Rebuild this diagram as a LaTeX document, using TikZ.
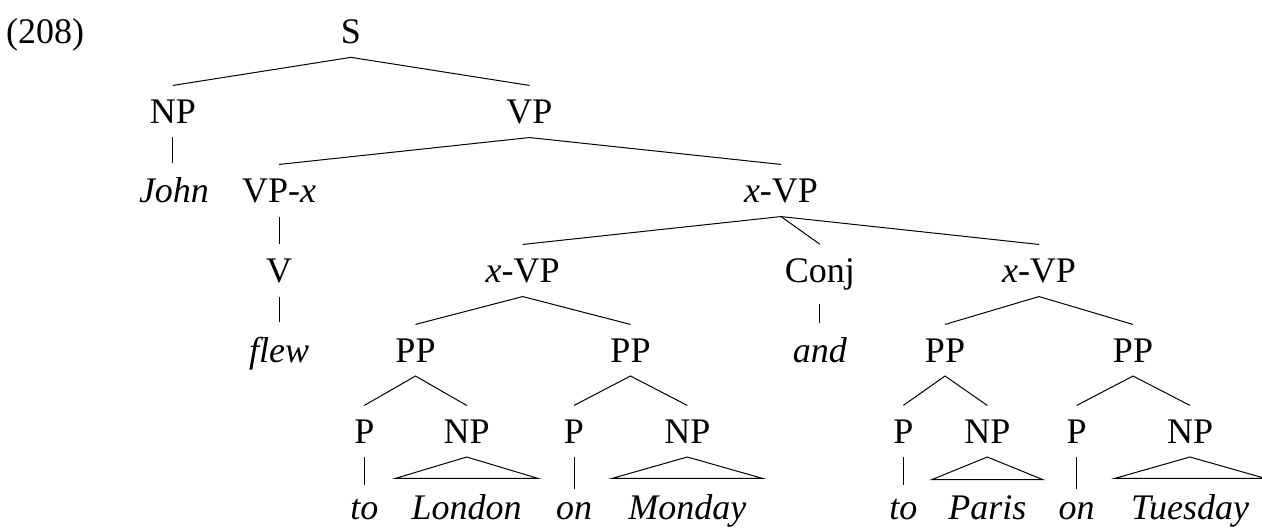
\documentclass[tikz,border=0pt]{standalone}
\usepackage{fontspec}
\setmainfont{Liberation Serif}
\begin{document}
\begin{tikzpicture}[x=0.5pt,y=-0.5pt,
  every node/.style={font=\fontsize{18}{21}\selectfont},
  cat/.style={anchor=base,inner xsep=0pt,inner ysep=6.8pt},
  leaf/.style={anchor=base,inner xsep=0pt,inner ysep=7pt,font=\fontsize{18}{21}\selectfont\itshape},
  bleaf/.style={leaf,inner ysep=6.5pt},
  tleaf/.style={anchor=base,inner xsep=8pt,inner ysep=7.6pt,font=\fontsize{18}{21}\selectfont\itshape},
  edge/.style={draw,line width=0.5pt}]
\useasboundingbox (0,0) rectangle (1262,527);
% label
\node[anchor=base,inner sep=0pt] (num) at (45,43) {(208)};
% level 0
\node[cat] (S) at (351,43) {S};
% level 1
\node[cat] (NP) at (172.8,123) {NP};
\node[cat] (VP) at (529.5,123) {VP};
% level 2
\node[leaf] (John) at (174,202) {John};
\node[cat] (VPx) at (279,202) {VP-\textit{x}};
\node[cat] (xVP) at (781,202) {\textit{x}-VP};
% level 3
\node[cat] (V) at (279,282) {V};
\node[cat] (xVPa) at (522.7,282) {\textit{x}-VP};
\node[cat] (Conj) at (819.8,282) {Conj};
\node[cat] (xVPb) at (1039,282) {\textit{x}-VP};
% level 4
\node[leaf] (flew) at (279,362) {flew};
\node[cat] (PPa) at (415.5,362) {PP};
\node[cat] (PPb) at (630.5,362) {PP};
\node[leaf] (and) at (819.8,362) {and};
\node[cat] (PPc) at (945,362) {PP};
\node[cat] (PPd) at (1133,362) {PP};
% level 5
\node[cat] (Pa) at (364.3,443) {P};
\node[cat] (NPa) at (466.7,443) {NP};
\node[cat] (Pb) at (574,443) {P};
\node[cat] (NPb) at (687.3,443) {NP};
\node[cat] (Pc) at (903.3,443) {P};
\node[cat] (NPc) at (987.3,443) {NP};
\node[cat] (Pd) at (1076.7,443) {P};
\node[cat] (NPd) at (1190,443) {NP};
% level 6
\node[bleaf] (toa) at (364.3,519) {to};
\node[tleaf] (London) at (466.7,519) {London};
\node[bleaf] (ona) at (574,519) {on};
\node[tleaf] (Monday) at (687.3,519) {Monday};
\node[bleaf] (tob) at (903.3,519) {to};
\node[tleaf] (Paris) at (987.3,519) {Paris};
\node[bleaf] (onb) at (1076.7,519) {on};
\node[tleaf] (Tuesday) at (1190,519) {Tuesday};
% edges
\path[edge] (NP.north) -- (S.south) -- (VP.north);
\path[edge] (NP.south) -- (NP.south |- John.north);
\path[edge] (VPx.north) -- (VP.south) -- (xVP.north);
\path[edge] (VPx.south) -- (V.north);
\path[edge] (V.south) -- (flew.north);
\path[edge] (xVPa.north) -- (xVP.south) -- (xVPb.north);
\path[edge] (xVP.south) -- (Conj.north);
\path[edge] (Conj.south) -- (and.north);
\path[edge] (PPa.north) -- (xVPa.south) -- (PPb.north);
\path[edge] (PPc.north) -- (xVPb.south) -- (PPd.north);
\path[edge] (Pa.north) -- (PPa.south) -- (NPa.north);
\path[edge] (Pb.north) -- (PPb.south) -- (NPb.north);
\path[edge] (Pc.north) -- (PPc.south) -- (NPc.north);
\path[edge] (Pd.north) -- (PPd.south) -- (NPd.north);
\path[edge] (Pa.south) -- (toa.north);
\path[edge] (Pb.south) -- (ona.north);
\path[edge] (Pc.south) -- (tob.north);
\path[edge] (Pd.south) -- (onb.north);
\path[edge] (NPa.south) -- (London.north west) -- (London.north east) -- cycle;
\path[edge] (NPb.south) -- (Monday.north west) -- (Monday.north east) -- cycle;
\path[edge] (NPc.south) -- (Paris.north west) -- (Paris.north east) -- cycle;
\path[edge] (NPd.south) -- (Tuesday.north west) -- (Tuesday.north east) -- cycle;
\end{tikzpicture}
\end{document}
